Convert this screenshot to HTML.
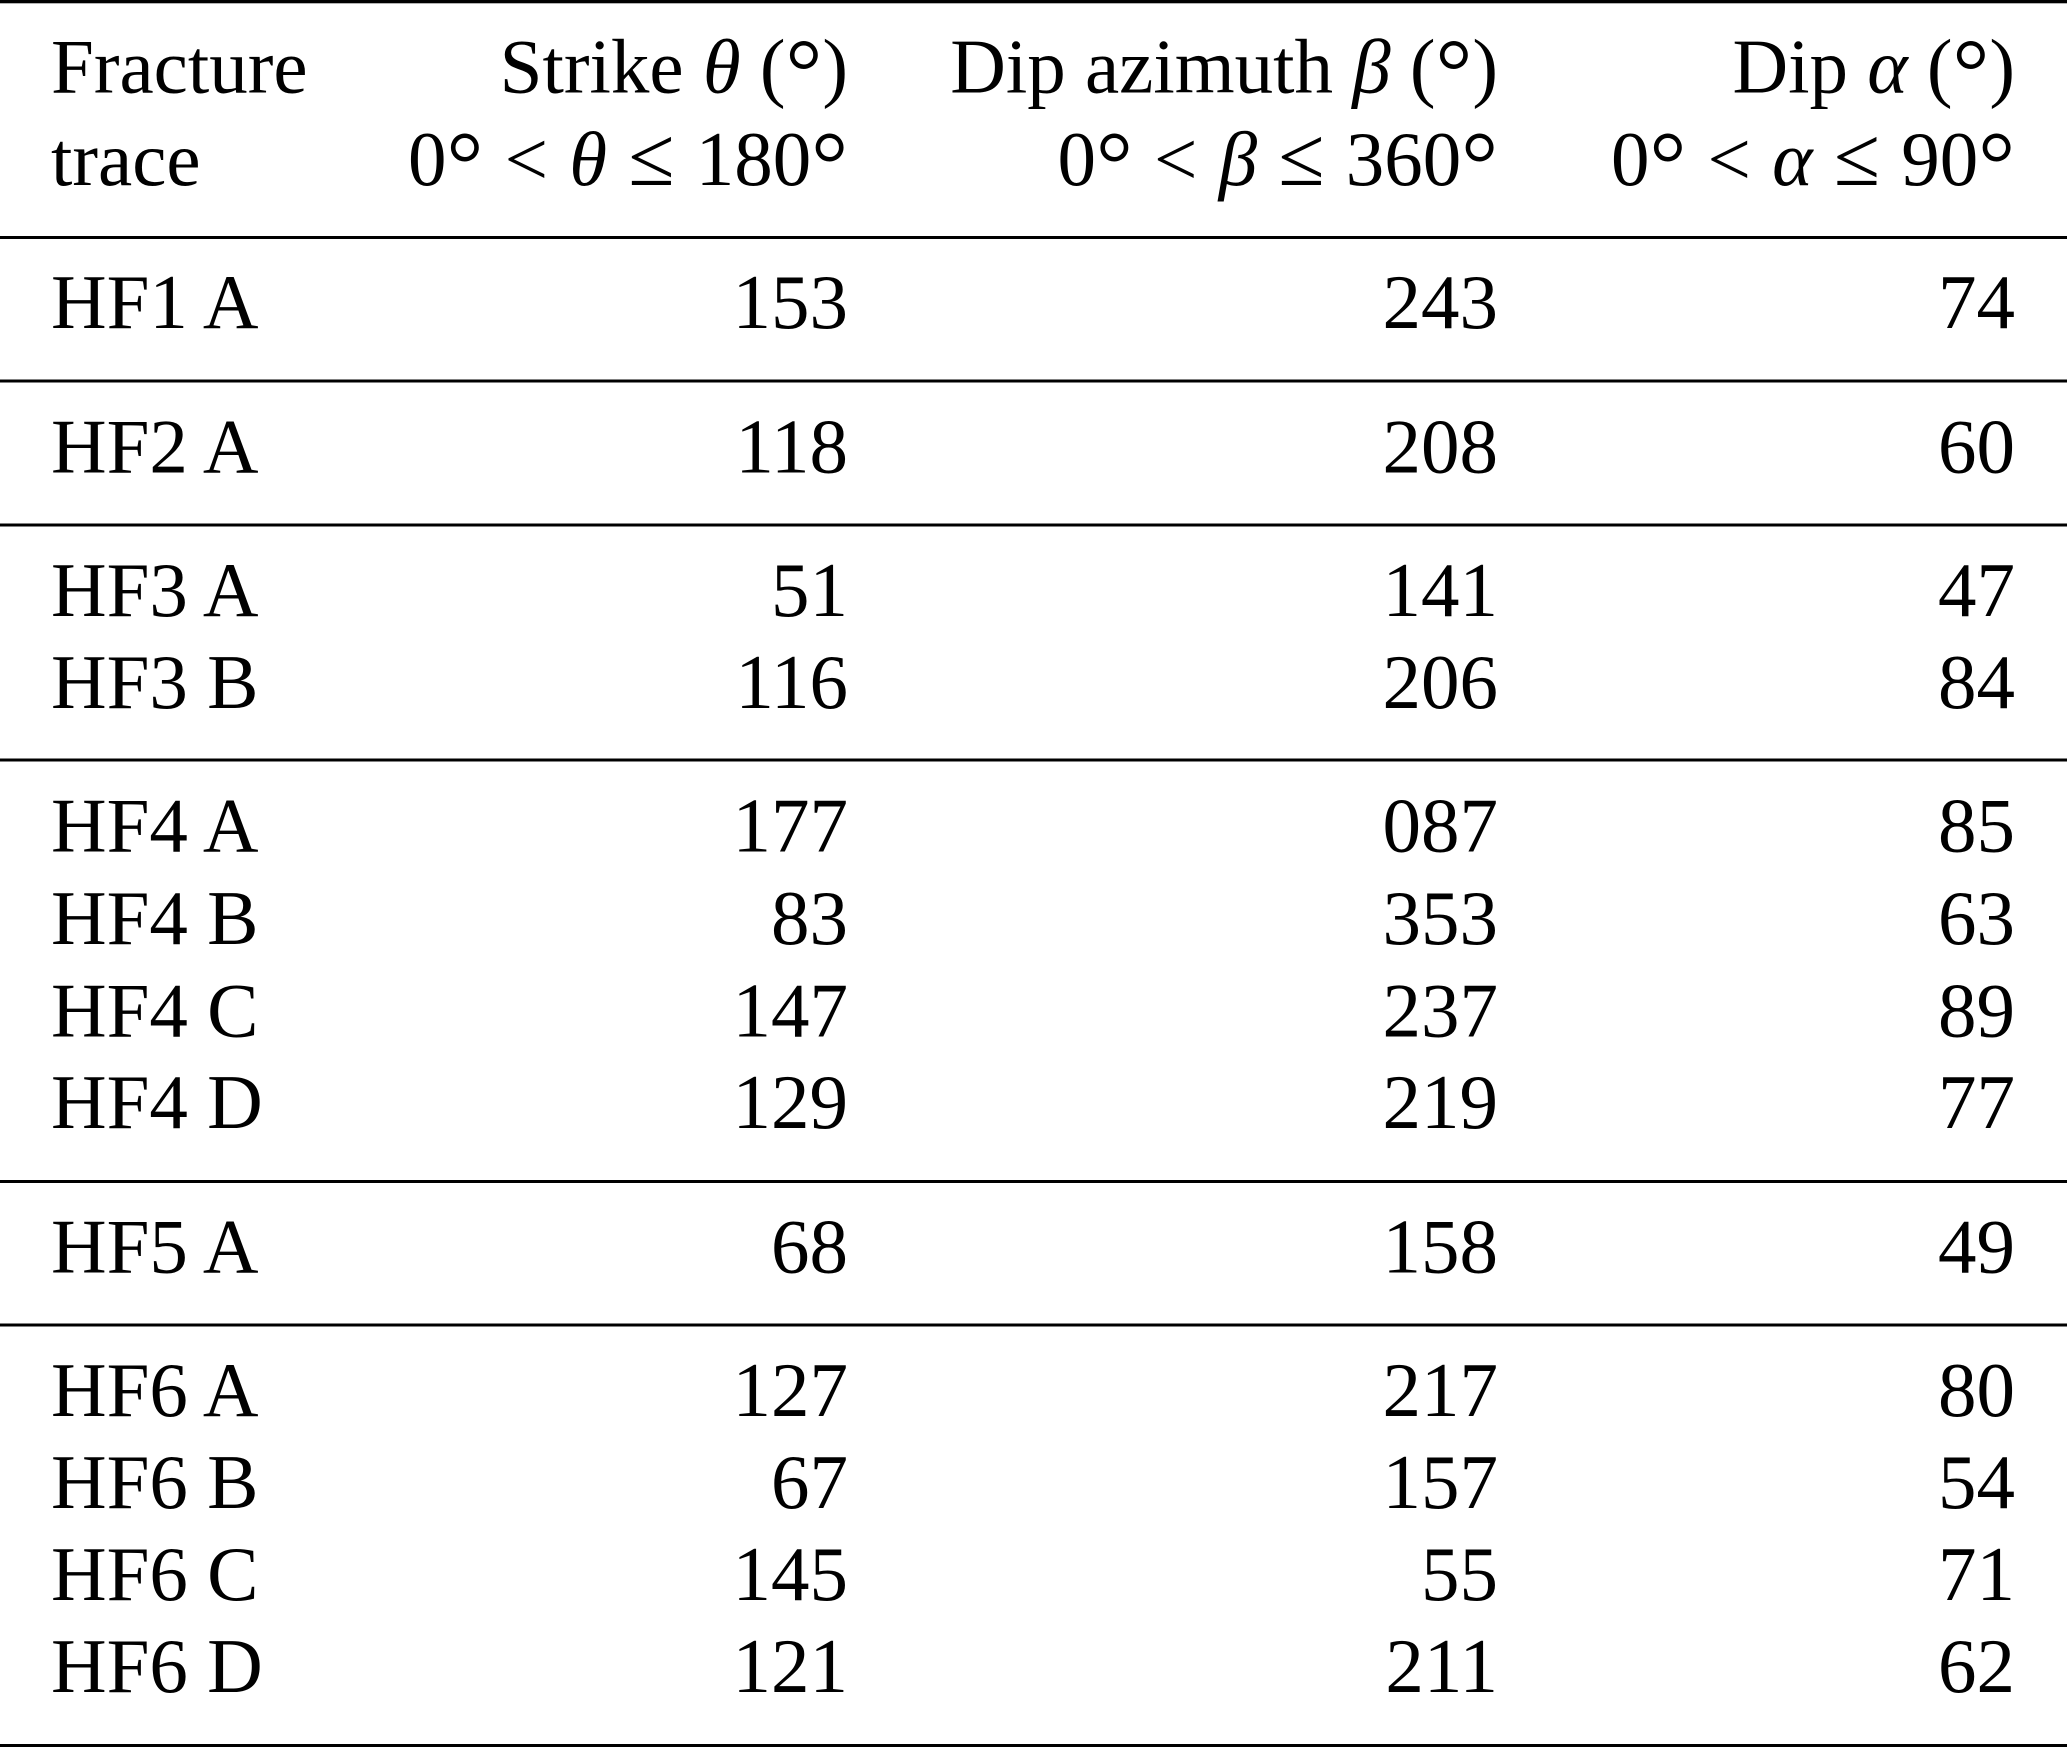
<!DOCTYPE html>
<html>
<head>
<meta charset="utf-8">
<style>
  html, body { margin: 0; padding: 0; background: #ffffff; }
  body { width: 2067px; height: 1749px; overflow: hidden; }
  svg { display: block; }
  text { font-family: "Liberation Serif", "DejaVu Serif", serif; font-size: 77px; fill: #000; }
  .it { font-style: italic; }
  .deg { font-size: 92px; }
  .le { font-size: 84px; }
</style>
</head>
<body>
<svg width="2067" height="1749" viewBox="0 0 2067 1749" xmlns="http://www.w3.org/2000/svg">
  <rect x="0" y="0" width="2067" height="1749" fill="#ffffff"/>
  <!-- rules -->
  <rect x="0" y="0" width="2067" height="3.3" fill="#000"/>
  <rect x="0" y="236" width="2067" height="3" fill="#000"/>
  <rect x="0" y="379.5" width="2067" height="3" fill="#000"/>
  <rect x="0" y="523.5" width="2067" height="3" fill="#000"/>
  <rect x="0" y="758.5" width="2067" height="3" fill="#000"/>
  <rect x="0" y="1180" width="2067" height="3" fill="#000"/>
  <rect x="0" y="1323.5" width="2067" height="3" fill="#000"/>
  <rect x="0" y="1744" width="2067" height="3" fill="#000"/>

  <!-- header -->
  <text x="51" y="92.5">Fracture</text>
  <text x="51" y="185">trace</text>

  <text x="848" y="92.5" text-anchor="end">Strike <tspan class="it">θ</tspan> (<tspan class="deg" baseline-shift="-10">°</tspan>)</text>
  <text x="848" y="185" text-anchor="end" word-spacing="2">0<tspan class="deg" baseline-shift="-10">°</tspan> &lt; <tspan class="it">θ</tspan> <tspan class="le">≤</tspan> 180<tspan class="deg" baseline-shift="-10">°</tspan></text>

  <text x="1498" y="92.5" text-anchor="end">Dip azimuth <tspan class="it">β</tspan> (<tspan class="deg" baseline-shift="-10">°</tspan>)</text>
  <text x="1498" y="185" text-anchor="end" word-spacing="2">0<tspan class="deg" baseline-shift="-10">°</tspan> &lt; <tspan class="it">β</tspan> <tspan class="le">≤</tspan> 360<tspan class="deg" baseline-shift="-10">°</tspan></text>

  <text x="2015" y="92.5" text-anchor="end">Dip <tspan class="it">α</tspan> (<tspan class="deg" baseline-shift="-10">°</tspan>)</text>
  <text x="2015" y="185" text-anchor="end" word-spacing="2">0<tspan class="deg" baseline-shift="-10">°</tspan> &lt; <tspan class="it">α</tspan> <tspan class="le">≤</tspan> 90<tspan class="deg" baseline-shift="-10">°</tspan></text>

  <!-- rows -->
  <text x="51" y="328">HF1 A</text>
  <text x="848" y="328" text-anchor="end">153</text>
  <text x="1498" y="328" text-anchor="end">243</text>
  <text x="2015" y="328" text-anchor="end">74</text>

  <text x="51" y="472.5">HF2 A</text>
  <text x="848" y="472.5" text-anchor="end">118</text>
  <text x="1498" y="472.5" text-anchor="end">208</text>
  <text x="2015" y="472.5" text-anchor="end">60</text>

  <text x="51" y="616">HF3 A</text>
  <text x="848" y="616" text-anchor="end">51</text>
  <text x="1498" y="616" text-anchor="end">141</text>
  <text x="2015" y="616" text-anchor="end">47</text>

  <text x="51" y="708">HF3 B</text>
  <text x="848" y="708" text-anchor="end">116</text>
  <text x="1498" y="708" text-anchor="end">206</text>
  <text x="2015" y="708" text-anchor="end">84</text>

  <text x="51" y="851.5">HF4 A</text>
  <text x="848" y="851.5" text-anchor="end">177</text>
  <text x="1498" y="851.5" text-anchor="end">087</text>
  <text x="2015" y="851.5" text-anchor="end">85</text>

  <text x="51" y="944">HF4 B</text>
  <text x="848" y="944" text-anchor="end">83</text>
  <text x="1498" y="944" text-anchor="end">353</text>
  <text x="2015" y="944" text-anchor="end">63</text>

  <text x="51" y="1036.5">HF4 C</text>
  <text x="848" y="1036.5" text-anchor="end">147</text>
  <text x="1498" y="1036.5" text-anchor="end">237</text>
  <text x="2015" y="1036.5" text-anchor="end">89</text>

  <text x="51" y="1128">HF4 D</text>
  <text x="848" y="1128" text-anchor="end">129</text>
  <text x="1498" y="1128" text-anchor="end">219</text>
  <text x="2015" y="1128" text-anchor="end">77</text>

  <text x="51" y="1272.5">HF5 A</text>
  <text x="848" y="1272.5" text-anchor="end">68</text>
  <text x="1498" y="1272.5" text-anchor="end">158</text>
  <text x="2015" y="1272.5" text-anchor="end">49</text>

  <text x="51" y="1416">HF6 A</text>
  <text x="848" y="1416" text-anchor="end">127</text>
  <text x="1498" y="1416" text-anchor="end">217</text>
  <text x="2015" y="1416" text-anchor="end">80</text>

  <text x="51" y="1508">HF6 B</text>
  <text x="848" y="1508" text-anchor="end">67</text>
  <text x="1498" y="1508" text-anchor="end">157</text>
  <text x="2015" y="1508" text-anchor="end">54</text>

  <text x="51" y="1600">HF6 C</text>
  <text x="848" y="1600" text-anchor="end">145</text>
  <text x="1498" y="1600" text-anchor="end">55</text>
  <text x="2015" y="1600" text-anchor="end">71</text>

  <text x="51" y="1692">HF6 D</text>
  <text x="848" y="1692" text-anchor="end">121</text>
  <text x="1498" y="1692" text-anchor="end">211</text>
  <text x="2015" y="1692" text-anchor="end">62</text>
</svg>
</body>
</html>
